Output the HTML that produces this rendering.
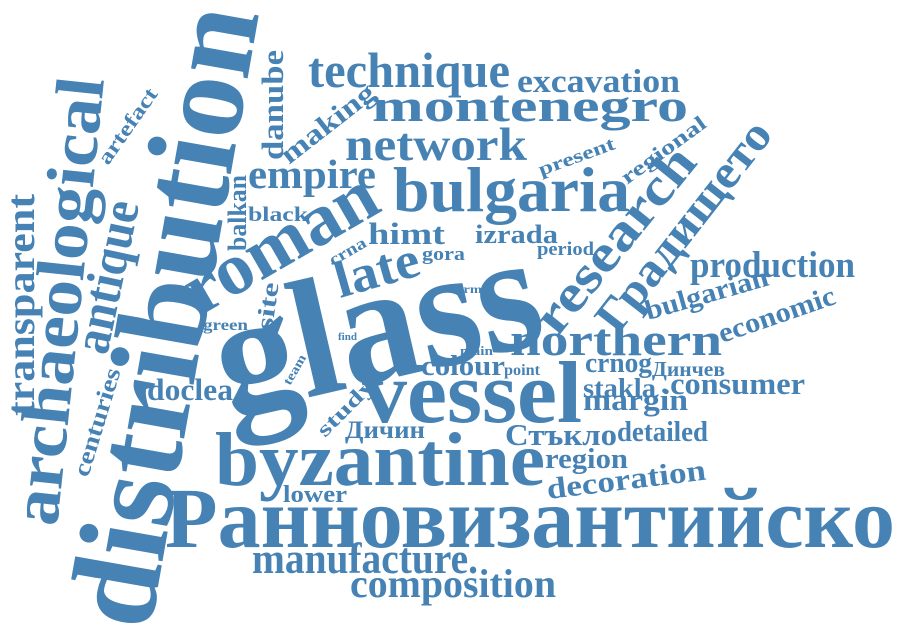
<!DOCTYPE html>
<html><head><meta charset="utf-8"><style>
html,body{margin:0;padding:0;background:#fff;}
svg{display:block;}
text{font-family:"Liberation Serif","DejaVu Serif",serif;font-weight:bold;fill:#4682b4;}
</style></head><body>
<svg width="900" height="631" viewBox="0 0 900 631" xmlns="http://www.w3.org/2000/svg">
<text x="150" y="632" font-size="125" textLength="628" lengthAdjust="spacingAndGlyphs" transform="rotate(-80 150 632)">distribution</text>
<text x="57" y="527" font-size="68" textLength="450" lengthAdjust="spacingAndGlyphs" transform="rotate(-84 57 527)">archaeological</text>
<text x="34" y="416" font-size="40" textLength="222" lengthAdjust="spacingAndGlyphs" transform="rotate(-90 34 416)">transparent</text>
<text x="107" y="356" font-size="52" textLength="155" lengthAdjust="spacingAndGlyphs" transform="rotate(-78 107 356)">antique</text>
<text x="88" y="478" font-size="24" textLength="112" lengthAdjust="spacingAndGlyphs" transform="rotate(-73 88 478)">centuries</text>
<text x="108" y="166" font-size="21" textLength="88" lengthAdjust="spacingAndGlyphs" transform="rotate(-55 108 166)">artefact</text>
<text x="246" y="251" font-size="26" textLength="76" lengthAdjust="spacingAndGlyphs" transform="rotate(-90 246 251)">balkan</text>
<text x="283" y="160" font-size="31" textLength="110" lengthAdjust="spacingAndGlyphs" transform="rotate(-90 283 160)">danube</text>
<text x="289" y="165" font-size="28" textLength="112" lengthAdjust="spacingAndGlyphs" transform="rotate(-38 289 165)">making</text>
<text x="308" y="87" font-size="50" textLength="202" lengthAdjust="spacingAndGlyphs">technique</text>
<text x="517" y="92" font-size="33" textLength="163" lengthAdjust="spacingAndGlyphs">excavation</text>
<text x="372" y="121" font-size="46" textLength="316" lengthAdjust="spacingAndGlyphs">montenegro</text>
<text x="345" y="160" font-size="47" textLength="182" lengthAdjust="spacingAndGlyphs">network</text>
<text x="248" y="188" font-size="41" textLength="128" lengthAdjust="spacingAndGlyphs">empire</text>
<text x="393" y="211" font-size="63" textLength="237" lengthAdjust="spacingAndGlyphs">bulgaria</text>
<text x="541" y="176" font-size="19" textLength="80" lengthAdjust="spacingAndGlyphs" transform="rotate(-20 541 176)">present</text>
<text x="627" y="185" font-size="21" textLength="100" lengthAdjust="spacingAndGlyphs" transform="rotate(-36 627 185)">regional</text>
<text x="248" y="221" font-size="21" textLength="60" lengthAdjust="spacingAndGlyphs">black</text>
<text x="200" y="316" font-size="74" textLength="212" lengthAdjust="spacingAndGlyphs" transform="rotate(-30 200 316)">roman</text>
<text x="368" y="244" font-size="31" textLength="77" lengthAdjust="spacingAndGlyphs">himt</text>
<text x="475" y="243" font-size="26" textLength="83" lengthAdjust="spacingAndGlyphs">izrada</text>
<text x="537" y="255" font-size="19" textLength="57" lengthAdjust="spacingAndGlyphs">period</text>
<text x="422" y="260" font-size="19" textLength="43" lengthAdjust="spacingAndGlyphs">gora</text>
<text x="333" y="266" font-size="17" textLength="40" lengthAdjust="spacingAndGlyphs" transform="rotate(-30 333 266)">crna</text>
<text x="340" y="298" font-size="52" textLength="86" lengthAdjust="spacingAndGlyphs" transform="rotate(-16 340 298)">late</text>
<text x="272" y="331" font-size="24" textLength="48" lengthAdjust="spacingAndGlyphs" transform="rotate(-82 272 331)">site</text>
<text x="203" y="330" font-size="16" textLength="45" lengthAdjust="spacingAndGlyphs">green</text>
<text x="452" y="293" font-size="12" textLength="30" lengthAdjust="spacingAndGlyphs">term</text>
<text x="440" y="328" font-size="13" textLength="25" lengthAdjust="spacingAndGlyphs">type</text>
<text x="338" y="340" font-size="11" textLength="19" lengthAdjust="spacingAndGlyphs">find</text>
<text x="460" y="355" font-size="13" textLength="33" lengthAdjust="spacingAndGlyphs">main</text>
<text x="228" y="416" font-size="168" textLength="330" lengthAdjust="spacingAndGlyphs" transform="rotate(-13 228 416)">glass</text>
<text x="557" y="338" font-size="53" textLength="225" lengthAdjust="spacingAndGlyphs" transform="rotate(-51 557 338)">research</text>
<text x="617" y="336" font-size="47" textLength="255" lengthAdjust="spacingAndGlyphs" transform="rotate(-52 617 336)">Градището</text>
<text x="690" y="277" font-size="37" textLength="165" lengthAdjust="spacingAndGlyphs">production</text>
<text x="648" y="320" font-size="28" textLength="127" lengthAdjust="spacingAndGlyphs" transform="rotate(-16 648 320)">bulgarian</text>
<text x="722" y="343" font-size="28" textLength="122" lengthAdjust="spacingAndGlyphs" transform="rotate(-19 722 343)">economic</text>
<text x="510" y="355" font-size="45" textLength="212" lengthAdjust="spacingAndGlyphs">northern</text>
<text x="421" y="375" font-size="28" textLength="84" lengthAdjust="spacingAndGlyphs">colour</text>
<text x="504" y="375" font-size="16" textLength="36" lengthAdjust="spacingAndGlyphs">point</text>
<text x="585" y="372" font-size="28" textLength="67" lengthAdjust="spacingAndGlyphs">crnog</text>
<text x="652" y="376" font-size="21" textLength="73" lengthAdjust="spacingAndGlyphs">Динчев</text>
<text x="583" y="397" font-size="27" textLength="73" lengthAdjust="spacingAndGlyphs">stakla</text>
<text x="662" y="394" font-size="31" textLength="143" lengthAdjust="spacingAndGlyphs">.consumer</text>
<text x="583" y="410" font-size="31" textLength="105" lengthAdjust="spacingAndGlyphs">margin</text>
<text x="362" y="422" font-size="88" textLength="220" lengthAdjust="spacingAndGlyphs">vessel</text>
<text x="505" y="445" font-size="31" textLength="112" lengthAdjust="spacingAndGlyphs">Стъкло</text>
<text x="617" y="441" font-size="28" textLength="91" lengthAdjust="spacingAndGlyphs">detailed</text>
<text x="545" y="468" font-size="29" textLength="83" lengthAdjust="spacingAndGlyphs">region</text>
<text x="548" y="499" font-size="30" textLength="160" lengthAdjust="spacingAndGlyphs" transform="rotate(-7 548 499)">decoration</text>
<text x="147" y="400" font-size="31" textLength="86" lengthAdjust="spacingAndGlyphs">doclea</text>
<text x="290" y="386" font-size="13" textLength="33" lengthAdjust="spacingAndGlyphs" transform="rotate(-60 290 386)">team</text>
<text x="325" y="438" font-size="21" textLength="72" lengthAdjust="spacingAndGlyphs" transform="rotate(-45 325 438)">study</text>
<text x="345" y="438" font-size="25" textLength="80" lengthAdjust="spacingAndGlyphs">Дичин</text>
<text x="215" y="485" font-size="76" textLength="330" lengthAdjust="spacingAndGlyphs">byzantine</text>
<text x="283" y="502" font-size="24" textLength="64" lengthAdjust="spacingAndGlyphs">lower</text>
<text x="165" y="547" font-size="86" textLength="730" lengthAdjust="spacingAndGlyphs">Ранновизантийско</text>
<text x="252" y="573" font-size="43" textLength="226" lengthAdjust="spacingAndGlyphs">manufacture.</text>
<text x="350" y="597" font-size="40" textLength="206" lengthAdjust="spacingAndGlyphs">composition</text>
</svg>
</body></html>
